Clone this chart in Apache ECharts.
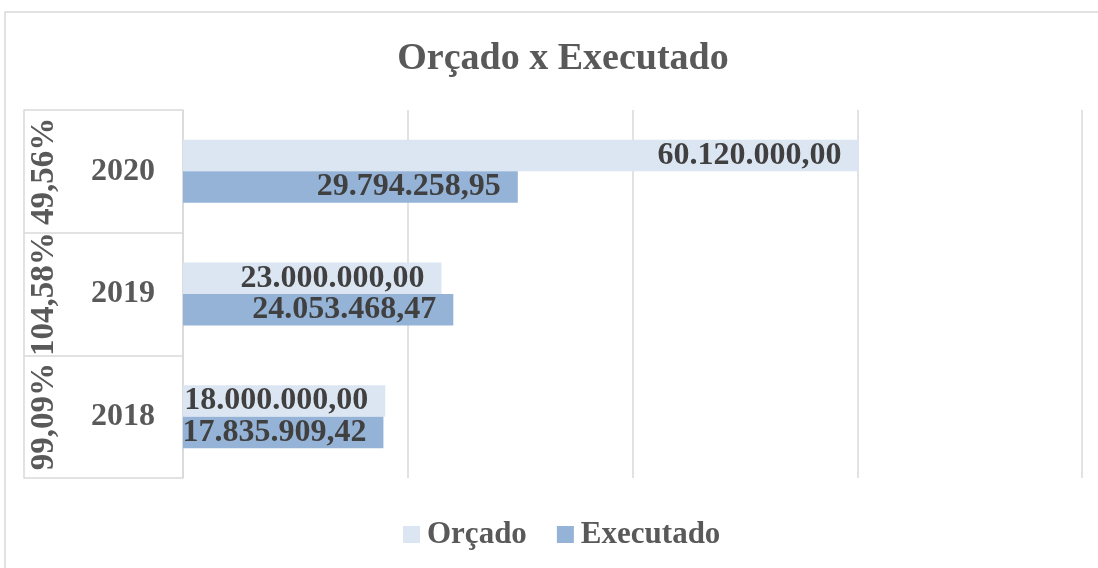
<!DOCTYPE html>
<html>
<head>
<meta charset="utf-8">
<script src="https://cdn.jsdelivr.net/npm/echarts@6/dist/echarts.min.js"></script>
<style>
  html, body { margin: 0; padding: 0; background: #fff; }
  #chart { width: 1098px; height: 568px; }
</style>
</head>
<body>
<div id="chart"></div>
<script>
// dados do gráfico
var anos = ["2018", "2019", "2020"];
var percentuais = ["99,09%", "104,58%", "49,56%"];
var orcado = [18000000.00, 23000000.00, 60120000.00];
var executado = [17835909.42, 24053468.47, 29794258.95];

var FONT = "'Liberation Serif', 'Times New Roman', serif";
var GRAY = "#d9d9d9";

// formato pt-BR: 60.120.000,00
function fmt(v) {
  var parts = v.toFixed(2).split(".");
  return parts[0].replace(/\B(?=(\d{3})+(?!\d))/g, ".") + "," + parts[1];
}

var labelStyle = {
  show: true,
  position: "insideRight",
  distance: 17,
  fontFamily: FONT,
  fontWeight: "bold",
  fontSize: 32,
  color: "#404040",
  formatter: function (p) { return fmt(p.value); }
};

var option = {
  backgroundColor: "#fff",
  animation: false,
  graphic: [
    {
      type: "rect",
      shape: { x: 5, y: 12, width: 1100, height: 600 },
      style: { fill: "none", stroke: GRAY, lineWidth: 1.5 },
      silent: true
    }
  ],
  title: {
    text: "Orçado x Executado",
    left: 558,
    top: 35,
    textAlign: "center",
    textStyle: {
      fontFamily: FONT,
      fontWeight: "bold",
      fontSize: 38,
      color: "#595959"
    }
  },
  legend: {
    data: ["Orçado", "Executado"],
    left: 398,
    top: 514,
    itemWidth: 17,
    itemHeight: 17,
    itemGap: 30,
    icon: "rect",
    textStyle: {
      fontFamily: FONT,
      fontWeight: "bold",
      fontSize: 31,
      color: "#595959",
      padding: [0, 0, 0, 2]
    }
  },
  grid: { left: 183, right: 16, top: 110, bottom: 90 },
  xAxis: {
    type: "value",
    min: 0,
    max: 80000000,
    interval: 20000000,
    axisLabel: { show: false },
    axisLine: { show: false },
    axisTick: { show: false },
    splitLine: { lineStyle: { color: GRAY, width: 1.5 } }
  },
  yAxis: [
    {
      type: "category",
      data: anos,
      position: "left",
      axisLine: { show: true, lineStyle: { color: GRAY, width: 1.5 } },
      axisTick: { show: true, length: 159, lineStyle: { color: GRAY, width: 1.5 } },
      axisLabel: {
        interval: 0,
        align: "center",
        margin: 60,
        fontFamily: FONT,
        fontWeight: "bold",
        fontSize: 32,
        color: "#595959"
      }
    },
    {
      type: "category",
      data: percentuais,
      position: "left",
      offset: 159,
      axisLine: { show: true, lineStyle: { color: GRAY, width: 1.5 } },
      axisTick: { show: false },
      axisLabel: {
        interval: 0,
        hideOverlap: false,
        inside: true,
        rotate: 90,
        margin: 4,
        fontFamily: FONT,
        fontWeight: "bold",
        fontSize: 33,
        color: "#595959"
      }
    }
  ],
  series: [
    {
      name: "Orçado",
      type: "bar",
      yAxisIndex: 0,
      data: orcado,
      barWidth: 31.5,
      barGap: "0%",
      itemStyle: { color: "#dce6f2" },
      label: labelStyle
    },
    {
      name: "Executado",
      type: "bar",
      yAxisIndex: 0,
      data: executado,
      barWidth: 31.5,
      barGap: "0%",
      itemStyle: { color: "#95b3d7" },
      label: labelStyle
    }
  ]
};

var myChart = echarts.init(document.getElementById("chart"));
myChart.setOption(option);
</script>
</body>
</html>
